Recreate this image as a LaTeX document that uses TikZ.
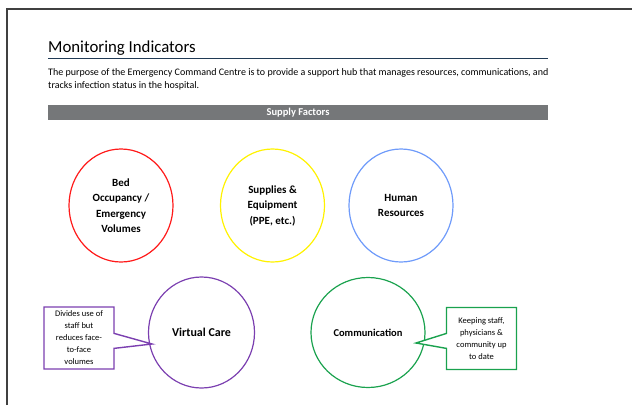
\documentclass[tikz,border=0pt]{standalone}
\usepackage{fontspec}
\setmainfont{Carlito}
\usepackage{tikz}
\usetikzlibrary{shapes,shapes.callouts}
\definecolor{barGray}{HTML}{757779}
\definecolor{ruleBlue}{HTML}{203A55}
\definecolor{bedRed}{HTML}{FF1A1A}
\definecolor{supYellow}{HTML}{FFF200}
\definecolor{hrBlue}{HTML}{6F9BFA}
\definecolor{vcPurple}{HTML}{7B3FB0}
\definecolor{comGreen}{HTML}{1AA24E}

\begin{document}
\begin{tikzpicture}[x=1pt, y=-1pt, main node/.style={ellipse, draw, line width=1.2pt, minimum width=104pt, minimum height=113pt, inner sep=0pt, align=center, font=\bfseries\fontsize{11}{15.5}\selectfont}, note/.style={rectangle callout, draw, line width=1.4pt, fill=white, align=center, inner sep=2pt, minimum width=70pt, minimum height=62pt, callout pointer width=15pt, font=\fontsize{8.5}{12}\selectfont}]
\useasboundingbox (0,0) rectangle (632,405);
\draw [line width=1.5pt, black!75] (7,405) -- (7,9) -- (632,9);
\node[anchor=base west, inner sep=0pt, font=\fontsize{16.8}{18}\selectfont] (title) at (48,52) {Monitoring Indicators};
\draw [line width=1.3pt, ruleBlue] (48,58.5) -- (548,58.5);
\node[anchor=base west, inner sep=0pt, font=\fontsize{10}{12}\selectfont] (text1) at (48,75.5) {The purpose of the Emergency Command Centre is to provide a support hub that manages resources, communications, and};
\node[anchor=base west, inner sep=0pt, font=\fontsize{10}{12}\selectfont] (text2) at (48,88.5) {tracks infection status in the hospital.};
\node[fill=barGray, minimum width=500pt, minimum height=15pt, inner sep=0pt, text=white, font=\bfseries\fontsize{10.5}{12}\selectfont] (bar) at (298,112.5) {Supply Factors};
\node[main node, draw=bedRed] (1) at (121,205.5) {Bed\\Occupancy /\\Emergency\\Volumes};
\node[main node, draw=supYellow] (2) at (272.5,205.5) {Supplies \&\\Equipment\\(PPE, etc.)};
\node[main node, draw=hrBlue] (3) at (401,205.5) {Human\\Resources};
\node[main node, draw=vcPurple, minimum width=106pt, minimum height=111pt, font=\bfseries\fontsize{12}{14}\selectfont] (4) at (201.5,332.5) {Virtual Care};
\node[main node, draw=comGreen, minimum width=114pt, minimum height=110pt, font=\bfseries\fontsize{10.5}{14}\selectfont] (5) at (368,332.5) {Communication};
\coordinate (t4) at (152,344);
\coordinate (t5) at (416,343);
\node[note, draw=vcPurple, callout absolute pointer=(t4)] (6) at (79,338) {Divides use of\\staff but\\reduces face-\\to-face\\volumes};
\node[note, draw=comGreen, callout absolute pointer=(t5)] (7) at (481.5,338.5) {Keeping staff,\\physicians \&\\community up\\to date};
\end{tikzpicture}
\end{document}
